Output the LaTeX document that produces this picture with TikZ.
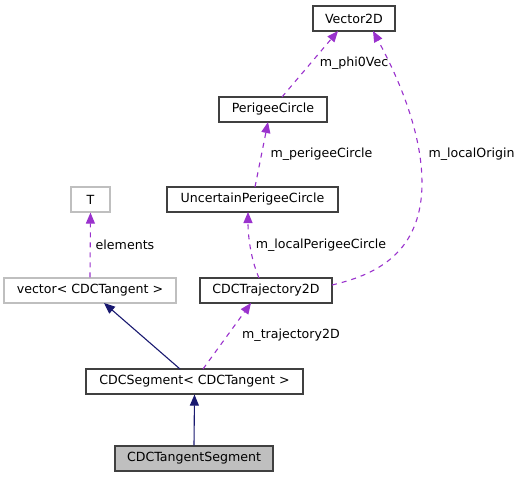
\documentclass[tikz,border=0pt]{standalone}
\usepackage{fontspec}
\setmainfont{DejaVu Sans}
\usetikzlibrary{arrows.meta}
\definecolor{edgepurple}{HTML}{9A32CD}
\definecolor{edgenavy}{HTML}{191970}
\definecolor{boxgrey}{HTML}{BFBFBF}
\definecolor{boxdark}{HTML}{404040}
\begin{document}
\begin{tikzpicture}[x=1bp,y=-1bp,
  cls/.style={draw=boxdark,line width=1.2bp,fill=white,inner sep=0pt,anchor=center,font=\fontsize{12.6bp}{14bp}\selectfont,text=black},
  ext/.style={cls,draw=boxgrey},
  lbl/.style={font=\fontsize{12.6bp}{14bp}\selectfont,inner sep=0pt,text=black},
  usage/.style={draw=edgepurple,line width=1.1bp,dash pattern=on 5bp off 5bp,-{Triangle[length=11bp,width=9bp,fill=edgepurple]}},
  inherit/.style={draw=edgenavy,line width=1.1bp,-{Triangle[length=11bp,width=9bp,fill=edgenavy]}}]
\useasboundingbox (0,0) rectangle (523,477);
\node[cls,minimum width=82bp,minimum height=25bp] (vec) at (354,18.5) {Vector2D};
\node[cls,minimum width=108bp,minimum height=25bp] (pc) at (273,109.5) {PerigeeCircle};
\node[ext,minimum width=39bp,minimum height=25bp] (T) at (90.5,199.5) {T};
\node[cls,minimum width=171bp,minimum height=25bp] (upc) at (252.5,199.5) {UncertainPerigeeCircle};
\node[ext,minimum width=172bp,minimum height=25bp] (vct) at (90,290.5) {vector< CDCTangent >};
\node[cls,minimum width=132bp,minimum height=25bp] (traj) at (266,290.5) {CDCTrajectory2D};
\node[cls,minimum width=217bp,minimum height=25bp] (seg) at (194.5,381.5) {CDCSegment< CDCTangent >};
\node[cls,fill=boxgrey,minimum width=158bp,minimum height=25bp] (ts) at (194,458.5) {CDCTangentSegment};

\coordinate (pcTop) at (282,97);
\coordinate (vecB1) at (338,31);
\coordinate (vecB2) at (373,31);
\coordinate (trajR) at (332,285);
\coordinate (upcTop) at (255,187);
\coordinate (pcBot) at (268,122);
\coordinate (trajTop) at (259,278);
\coordinate (upcBot) at (248,212);
\coordinate (segTopR) at (203,369);
\coordinate (trajBot) at (251,303);
\coordinate (segTopL) at (180,369);
\coordinate (vctBot) at (104,303);

\draw[usage] (pcTop) -- (vecB1);
\draw[usage] (trajR) .. controls (375,275) and (414,255) .. (421,200)
  .. controls (427,150) and (405,90) .. (vecB2);
\draw[usage] (upcTop) -- (pcBot);
\draw[usage] (vct.north) -- (T.south);
\draw[usage] (trajTop) .. controls (252,262) and (248,240) .. (upcBot);
\draw[usage] (segTopR) -- (trajBot);
\draw[inherit] (segTopL) -- (vctBot);
\draw[inherit] (ts.north) -- (seg.south);

\node[lbl] (l1) at (354,63) {m\_phi0Vec};
\node[lbl] (l2) at (321.5,154) {m\_perigeeCircle};
\node[lbl] (l3) at (471.5,154) {m\_localOrigin};
\node[lbl] (l4) at (125,245) {elements};
\node[lbl] (l5) at (321,245) {m\_localPerigeeCircle};
\node[lbl] (l6) at (291,335) {m\_trajectory2D};
\end{tikzpicture}
\end{document}
